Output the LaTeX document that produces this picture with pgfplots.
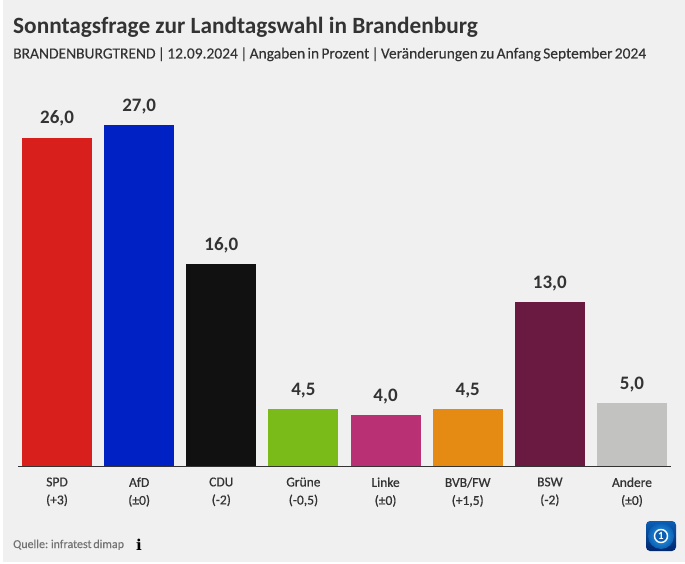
\documentclass[border=0pt]{standalone}
\usepackage{fontspec}
\setmainfont{Carlito}
\newfontfamily\medfont[FakeBold=0.6]{Carlito}
\newfontfamily\subfont[WordSpace=0.65,FakeBold=0.1]{Carlito}
\newfontfamily\serifi{DejaVu Serif}
\usepackage{pgfplots}
\pgfplotsset{compat=1.18}
\definecolor{bg}{HTML}{F0F0F0}
\definecolor{ink}{HTML}{333333}
\definecolor{spd}{HTML}{D91F1C}
\definecolor{afd}{HTML}{0021C4}
\definecolor{cdu}{HTML}{111111}
\definecolor{gruene}{HTML}{7ABB1A}
\definecolor{linke}{HTML}{B93075}
\definecolor{bvb}{HTML}{E58A13}
\definecolor{bsw}{HTML}{6A1A40}
\definecolor{andere}{HTML}{C2C2C0}
\definecolor{logodark}{HTML}{02276E}
\definecolor{logomid}{HTML}{0A5FB4}
\definecolor{logolight}{HTML}{2FA0E6}
\begin{document}
\begin{tikzpicture}[x=1pt,y=1pt]
\useasboundingbox (0,0) rectangle (685,563);
\fill[white] (0,0) rectangle (685,563);
\fill[bg] (3,1) rectangle (685,563);
\node[anchor=base west,inner sep=0,text=ink,font=\fontsize{23.3}{28}\selectfont\bfseries] at (13,529) {Sonntagsfrage zur Landtagswahl in Brandenburg};
\node[anchor=base west,inner sep=0,text=ink,font=\subfont\fontsize{15.5}{20}\selectfont] at (13,504.5) {BRANDENBURGTREND | 12.09.2024 | Angaben in Prozent | Veränderungen zu Anfang September 2024};
\begin{axis}[
    at={(18pt,97pt)}, anchor=south west,
    scale only axis, width=653pt, height=341pt,
    xmin=-0.475, xmax=7.475, ymin=0, ymax=27,
    clip=false,
    axis line style={draw=none},
    axis x line=bottom, axis y line=none,
    ybar, bar width=70pt, bar shift=0pt,
    xtick={0,...,7},
    xticklabels={
        {SPD\\[2pt](+3)},{AfD\\[2pt](±0)},{CDU\\[2pt](-2)},{Grüne\\[2pt](-0,5)},
        {Linke\\[2pt](±0)},{BVB/FW\\[2pt](+1,5)},{BSW\\[2pt](-2)},{Andere\\[2pt](±0)}},
    xticklabel style={align=center,text=ink,font=\medfont\fontsize{13.5}{16}\selectfont,yshift=-8pt},
    major tick length=0pt,
    nodes near coords,
    nodes near coords style={
        text=ink,font=\fontsize{19}{22}\selectfont\bfseries,anchor=south,yshift=11pt,inner sep=0pt,
        /pgf/number format/.cd,fixed,fixed zerofill,precision=1,use comma,assume math mode=true},
    every axis plot/.append style={draw=none},
]
\addplot[fill=spd] coordinates {(0,26)};
\addplot[fill=afd] coordinates {(1,27)};
\addplot[fill=cdu] coordinates {(2,16)};
\addplot[fill=gruene] coordinates {(3,4.5)};
\addplot[fill=linke] coordinates {(4,4)};
\addplot[fill=bvb] coordinates {(5,4.5)};
\addplot[fill=bsw] coordinates {(6,13)};
\addplot[fill=andere] coordinates {(7,5)};
\draw[ink,line width=1pt] (axis cs:-0.475,0) -- (axis cs:7.475,0);
\end{axis}
\node[anchor=base west,inner sep=0,text=gray!90!black,font=\subfont\fontsize{12}{16}\selectfont] at (13,15) {Quelle: infratest dimap};
\node[anchor=base,inner sep=0,text=black,font=\serifi\fontsize{15}{16}\selectfont\bfseries] at (139,13) {i};
% tagesschau logo
\shade[top color=logomid,bottom color=logodark,rounded corners=4pt] (646,12) rectangle (676,42);
\shade[inner color=logolight,outer color=logomid] (661,27) circle (13);
\draw[white,line width=1.4pt,fill=logomid] (661,27) circle (6.5);
\node[text=white,font=\fontsize{11}{11}\selectfont\bfseries,inner sep=0] at (661,27) {1};
\end{tikzpicture}
\end{document}
